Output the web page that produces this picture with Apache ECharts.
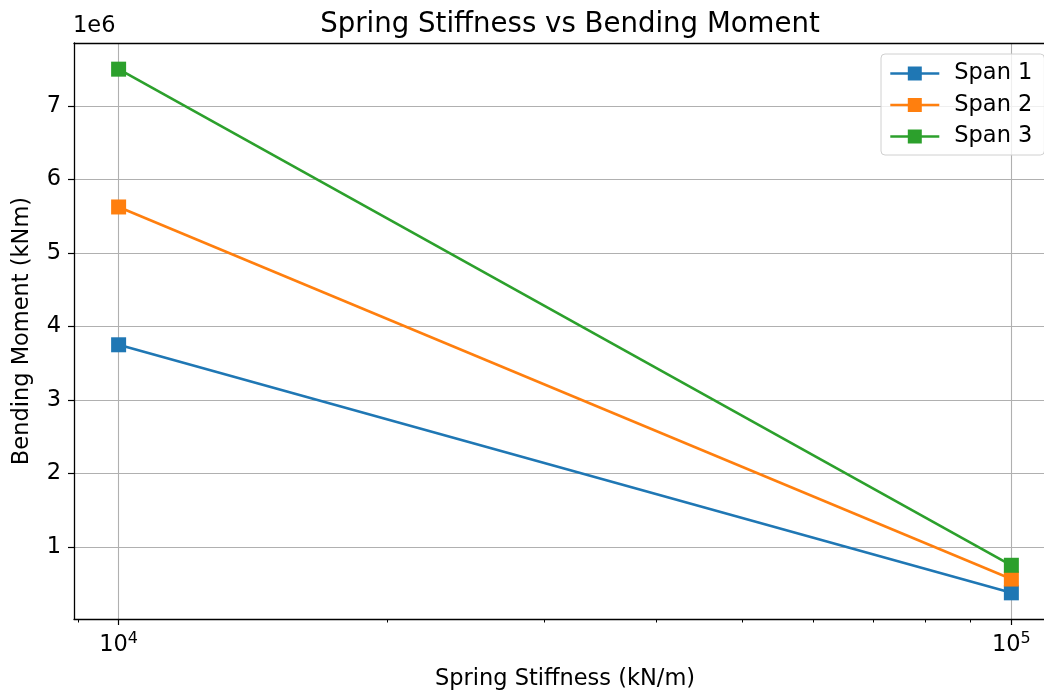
<!DOCTYPE html>
<html>
<head>
<meta charset="utf-8">
<script src="https://cdn.jsdelivr.net/npm/echarts@6/dist/echarts.min.js"></script>
<style>
html,body{margin:0;padding:0;background:#fff;overflow:hidden;}
#chart{width:1044px;height:691px;}
</style>
</head>
<body>
<div id="chart"></div>
<script>
// ---- data ----
const stiffness = [10000, 100000];               // kN/m
const span1 = [3750000, 375000];                 // kNm
const span2 = [5625000, 562500];
const span3 = [7500000, 750000];
const seriesNames = ['Span 1', 'Span 2', 'Span 3'];
const colors = ['#1f77b4', '#ff7f0e', '#2ca02c'];
const xMajorTicks = [10000, 100000];
const xMinorTicks = [9000, 20000, 30000, 40000, 50000, 60000, 70000, 80000, 90000];
const yTicks = [1e6, 2e6, 3e6, 4e6, 5e6, 6e6, 7e6];
const xRange = [8913, 112202];
const yRange = [19000, 7856000];

const lg = v => Math.log10(v);
const FONT = 'DejaVu Sans';
const FS = 22.5;
const toPairs = ys => stiffness.map((x, i) => [lg(x), ys[i]]);

const chart = echarts.init(document.getElementById('chart'), null, {renderer: 'canvas'});
const option = {
  backgroundColor: '#fff',
  animation: false,
  textStyle: {fontFamily: FONT},
  title: {
    text: 'Spring Stiffness vs Bending Moment',
    left: 565, textAlign: 'center', top: 6,
    textStyle: {fontFamily: FONT, fontSize: 27.6, fontWeight: 'normal', color: '#000'}
  },
  graphic: [{
    type: 'text', left: 73, top: 15,
    style: {text: '1e6', font: FS + 'px "DejaVu Sans"', fill: '#000'}
  }],
  legend: {
    orient: 'vertical', left: 881, top: 54,
    padding: [8, 12, 7, 8],
    itemWidth: 49, itemHeight: 17.5, itemGap: 8.5,
    borderColor: '#d0d0d0', borderWidth: 1, borderRadius: 4,
    backgroundColor: 'rgba(255,255,255,0.8)',
    lineStyle: {width: 2.6},
    textStyle: {fontFamily: FONT, fontSize: FS, color: '#000', padding: [0, 0, 0, 10]},
    data: seriesNames
  },
  grid: {
    left: 74, top: 43, width: 982, height: 576,
    outerBoundsMode: 'none',
    show: false,
    containLabel: false
  },
  xAxis: [{
    type: 'value', min: lg(xRange[0]), max: lg(xRange[1]),
    name: 'Spring Stiffness (kN/m)', nameLocation: 'middle', nameGap: 49,
    nameTextStyle: {fontFamily: FONT, fontSize: FS, color: '#000'},
    axisLine: {show: true, lineStyle: {color: '#000', width: 1.3}},
    axisTick: {show: true, length: 6, customValues: xMajorTicks.map(lg), lineStyle: {color: '#000', width: 1.2}},
    axisLabel: {
      customValues: xMajorTicks.map(lg), margin: 12,
      formatter: v => '{b|10}{s|' + Math.round(v) + '}',
      rich: {
        b: {fontFamily: FONT, fontSize: FS, color: '#000'},
        s: {fontFamily: FONT, fontSize: 16, color: '#000', padding: [0, 0, 12, 0]}
      }
    },
    splitLine: {show: true, lineStyle: {color: '#b0b0b0', width: 1.1}}
  }, {
    type: 'value', min: lg(xRange[0]), max: lg(xRange[1]),
    position: 'bottom', gridIndex: 0,
    axisLine: {show: false},
    axisTick: {show: true, length: 3.5, customValues: xMinorTicks.map(lg), lineStyle: {color: '#000', width: 1}},
    axisLabel: {show: false},
    splitLine: {show: false}
  }, {
    type: 'value', min: lg(xRange[0]), max: lg(xRange[1]),
    position: 'top', gridIndex: 0,
    axisLine: {show: true, lineStyle: {color: '#000', width: 1.3}},
    axisTick: {show: false},
    axisLabel: {show: false},
    splitLine: {show: false}
  }],
  yAxis: {
    type: 'value', min: yRange[0], max: yRange[1],
    name: 'Bending Moment (kNm)', nameLocation: 'middle', nameGap: 40,
    nameTextStyle: {fontFamily: FONT, fontSize: FS, color: '#000'},
    axisLine: {show: true, lineStyle: {color: '#000', width: 1.3}},
    axisTick: {show: true, length: 6, customValues: yTicks, lineStyle: {color: '#000', width: 1.2}},
    axisLabel: {
      customValues: yTicks, margin: 13,
      formatter: v => String(Math.round(v / 1e6)),
      fontFamily: FONT, fontSize: FS, color: '#000'
    },
    splitLine: {show: true, lineStyle: {color: '#b0b0b0', width: 1.1}}
  },
  series: [span1, span2, span3].map((d, i) => ({
    name: seriesNames[i], type: 'line', xAxisIndex: 0,
    data: toPairs(d),
    symbol: 'rect', symbolSize: 15,
    lineStyle: {color: colors[i], width: 2.6},
    itemStyle: {color: colors[i]},
    z: 3 + i
  }))
};
chart.setOption(option);
</script>
</body>
</html>
